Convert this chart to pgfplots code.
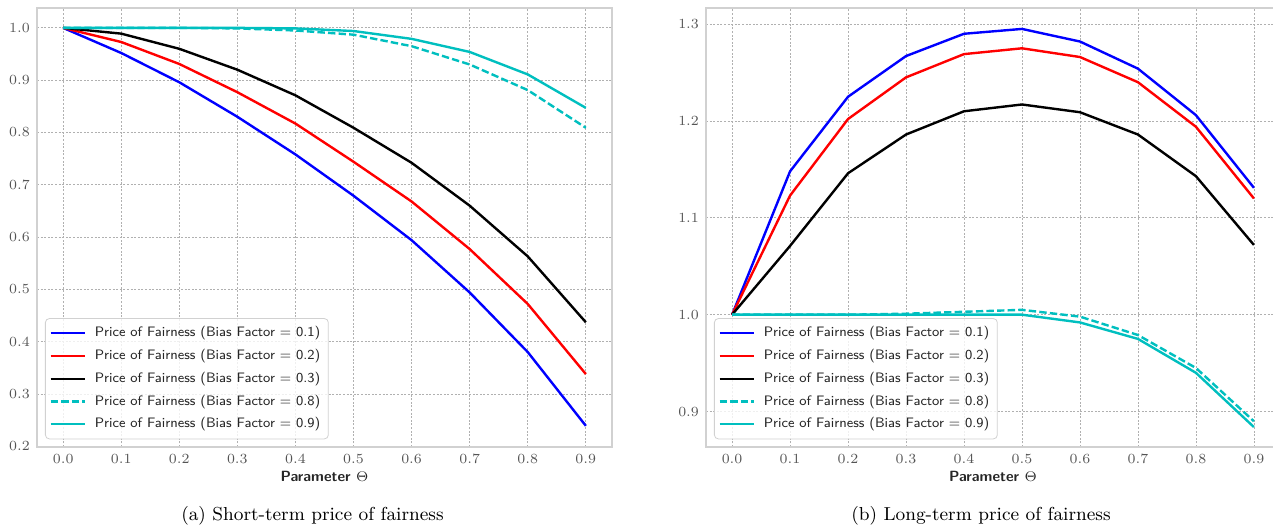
\documentclass[border=0pt]{standalone}
\usepackage{pgfplots}
\pgfplotsset{compat=1.18}
\definecolor{cc}{rgb}{0,0.75,0.75}
\definecolor{gridc}{rgb}{0.69,0.69,0.69}
\definecolor{framec}{rgb}{0.82,0.82,0.82}
\definecolor{tickc}{rgb}{0.33,0.33,0.33}
\definecolor{labc}{rgb}{0.15,0.15,0.15}

\pgfplotstableread{
x    b1     b2     b3     b8     b9
0.0  1.000  1.000  1.000  1.000  1.000
0.1  0.952  0.973  0.989  1.000  1.000
0.2  0.896  0.931  0.960  1.000  1.000
0.3  0.830  0.877  0.920  0.999  1.000
0.4  0.758  0.817  0.871  0.995  0.999
0.5  0.679  0.744  0.809  0.987  0.994
0.6  0.594  0.668  0.742  0.965  0.979
0.7  0.494  0.577  0.660  0.930  0.954
0.8  0.380  0.472  0.563  0.881  0.911
0.9  0.239  0.338  0.437  0.809  0.847
}\shortterm

\pgfplotstableread{
x    b1     b2     b3     b8     b9
0.0  1.000  1.000  1.000  1.000  1.000
0.1  1.148  1.123  1.071  1.000  1.000
0.2  1.225  1.202  1.146  1.000  1.000
0.3  1.267  1.245  1.186  1.001  1.000
0.4  1.290  1.269  1.210  1.003  1.000
0.5  1.295  1.275  1.217  1.005  1.000
0.6  1.282  1.266  1.209  0.998  0.992
0.7  1.254  1.240  1.186  0.979  0.975
0.8  1.206  1.194  1.143  0.945  0.940
0.9  1.131  1.120  1.072  0.890  0.884
}\longterm

\pgfplotsset{
  mystyle/.style={
    scale only axis, width=287.5pt, height=219.5pt,
    axis line style={framec, line width=0.6pt},
    grid=major,
    major grid style={gridc, line width=0.4pt, dash pattern=on 1pt off 0.8pt},
    major tick length=0pt,
    tick label style={font=\fontsize{7.4}{8}\selectfont, color=tickc},
    xtick={0,0.1,0.2,0.3,0.4,0.5,0.6,0.7,0.8,0.9},
    xmin=-0.045, xmax=0.945,
    xticklabel style={/pgf/number format/.cd, fixed, fixed zerofill, precision=1},
    yticklabel style={/pgf/number format/.cd, fixed, fixed zerofill, precision=1},
    xlabel={\sffamily\bfseries Parameter \mdseries$\Theta$},
    xlabel style={font=\fontsize{7.4}{8}\selectfont, color=labc, yshift=3pt},
    legend cell align=left,
    legend style={at={(0.0139,0.0175)}, anchor=south west,
      draw=framec, rounded corners=2pt, fill=white, fill opacity=0.8, text opacity=1,
      font=\fontsize{6.85}{8}\sffamily\selectfont, text=labc,
      inner xsep=2pt, inner ysep=2pt, row sep=0.75pt, column sep=2.5pt},
    every axis plot/.append style={line width=1.2pt, line join=round},
  }
}

\begin{document}
\begin{tikzpicture}
\useasboundingbox (0,0) rectangle (636.5pt,263.5pt);
\begin{axis}[mystyle, at={(18.5pt,40pt)}, anchor=south west,
  ymin=0.1985, ymax=1.038, ytick={0.2,0.3,0.4,0.5,0.6,0.7,0.8,0.9,1.0}]
\addplot[blue] table[x=x,y=b1] {\shortterm};
\addlegendentry{Price of Fairness (Bias Factor = 0.1)}
\addplot[red] table[x=x,y=b2] {\shortterm};
\addlegendentry{Price of Fairness (Bias Factor = 0.2)}
\addplot[black] table[x=x,y=b3] {\shortterm};
\addlegendentry{Price of Fairness (Bias Factor = 0.3)}
\addplot[cc, dash pattern=on 3.7pt off 1.6pt] table[x=x,y=b8] {\shortterm};
\addlegendentry{Price of Fairness (Bias Factor = 0.8)}
\addplot[cc] table[x=x,y=b9] {\shortterm};
\addlegendentry{Price of Fairness (Bias Factor = 0.9)}
\end{axis}
\begin{axis}[mystyle, at={(353pt,40pt)}, anchor=south west, width=287pt,
  ymin=0.8634, ymax=1.3166, ytick={0.9,1.0,1.1,1.2,1.3}]
\addplot[blue] table[x=x,y=b1] {\longterm};
\addlegendentry{Price of Fairness (Bias Factor = 0.1)}
\addplot[red] table[x=x,y=b2] {\longterm};
\addlegendentry{Price of Fairness (Bias Factor = 0.2)}
\addplot[black] table[x=x,y=b3] {\longterm};
\addlegendentry{Price of Fairness (Bias Factor = 0.3)}
\addplot[cc, dash pattern=on 3.7pt off 1.6pt] table[x=x,y=b8] {\longterm};
\addlegendentry{Price of Fairness (Bias Factor = 0.8)}
\addplot[cc] table[x=x,y=b9] {\longterm};
\addlegendentry{Price of Fairness (Bias Factor = 0.9)}
\end{axis}
\node[font=\fontsize{9.4}{11}\selectfont] at (156.25pt,5.5pt) {(a) Short-term price of fairness};
\node[font=\fontsize{9.4}{11}\selectfont] at (490.5pt,5.5pt) {(b) Long-term price of fairness};
\end{tikzpicture}
\end{document}
